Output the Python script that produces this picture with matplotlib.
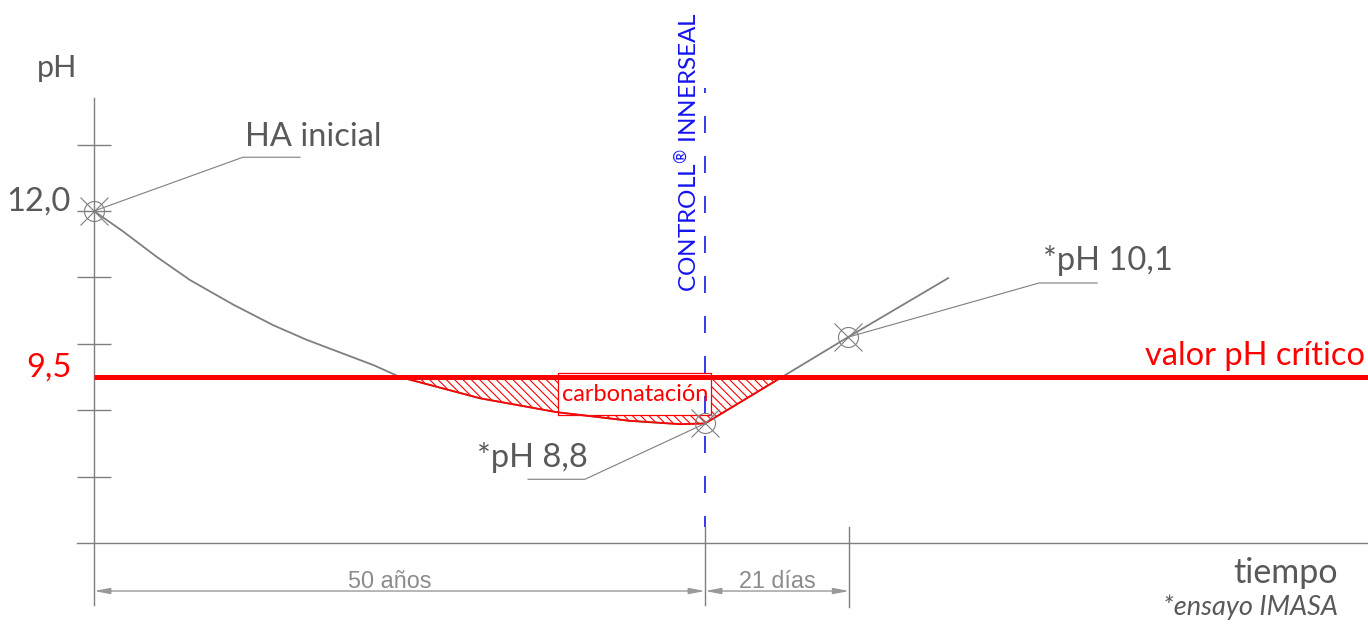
import matplotlib.pyplot as plt

plt.rcParams['font.family'] = ['Lato', 'DejaVu Sans']
plt.rcParams['mathtext.fontset'] = 'custom'
plt.rcParams['mathtext.rm'] = 'Lato'
plt.rcParams['hatch.linewidth'] = 0.8
plt.rcParams['hatch.color'] = 'red'

# curve (x = schematic time, y = pH)
curve_t = [0, 2.40, 5.13, 7.86, 11.40, 14.67, 17.41, 20.13, 22.86,
           25.04, 31.59, 37.89, 43.86, 47.95, 50]
curve_ph = [12.0, 11.69, 11.31, 10.96, 10.59, 10.28, 10.06, 9.87, 9.68,
            9.50, 9.18, 8.97, 8.84, 8.79, 8.8]
rise_t = [50, 56.3, 61.7, 69.9]
rise_ph = [8.8, 9.5, 10.1, 10.99]

ph_ticks = [13, 12, 11, 10, 9, 8]
ph_base = 7
ph_crit = 9.5
t_ctrl = 50
t_test = 61.8

points_t = [0, 50, 61.7]
points_ph = [12.0, 8.8, 10.1]

gray = '#7f7f7f'
txt = '#595959'
blue = '#1414f0'

fig = plt.figure(figsize=(13.68, 6.28), dpi=100)
ax = fig.add_axes([0, 0, 1, 1])
ax.set_xlim(-7.69, 104.25)
ax.set_ylim(5.72, 15.178)
ax.axis('off')

# axes
ax.plot([0, 0], [6.07, 13.7], color=gray, lw=1.0)
ax.plot([-1.39, 104.25], [ph_base, ph_base], color=gray, lw=1.0)
ax.hlines(ph_ticks, -1.39, 1.39, color=gray, lw=1.0)

# hatched carbonation zone
fill_t = curve_t[9:] + rise_t[1:2]
fill_ph = curve_ph[9:] + rise_ph[1:2]
ax.fill_between(fill_t, fill_ph, ph_crit, facecolor='none', edgecolor='red',
                hatch='\\\\\\\\', lw=0)

# curves
ax.plot(curve_t, curve_ph, color=gray, lw=1.3)
ax.plot(rise_t, rise_ph, color=gray, lw=1.3)
ax.plot(fill_t, fill_ph, color='red', lw=1.3)

# critical line
ax.plot([0, 104.25], [ph_crit, ph_crit], color='red', lw=3.6, solid_capstyle='butt')

# box
box_x = [38.0, 50.5]
ax.fill_between(box_x, [8.93, 8.93], [9.56, 9.56], facecolor='white', edgecolor='red', lw=0.9)
ax.text(44.25, 9.24, 'carbonatación', color='red', fontsize=17, ha='center', va='center')

# control line
ax.plot([t_ctrl, t_ctrl], [7.24, 13.85], color=blue, lw=1.2,
        linestyle=(3.6, (10.2, 13.8)))
ax.text(48.55, 12.89, 'CONTROLL$^{®}$ INNERSEAL', color=blue, fontsize=17.5,
        rotation=90, ha='center', va='center')

# markers
ax.plot(points_t, points_ph, 'o', ms=14.4, mfc='none', mec=gray, mew=0.8)
ax.plot(points_t, points_ph, 'x', ms=20, mec=gray, mew=0.8)

# leaders and labels
ax.plot([0, 12.19, 16.86], [12.0, 12.81, 12.81], color=gray, lw=0.8)
ax.text(12.36, 12.98, 'HA inicial', color=txt, fontsize=23.5, ha='left', va='baseline')
ax.plot([50, 40.18, 35.52], [8.8, 7.96, 7.96], color=gray, lw=0.8)
ax.text(40.43, 8.145, '*pH 8,8', color=txt, fontsize=23.5, ha='right', va='baseline')
ax.plot([61.7, 77.33, 82.08], [10.1, 10.916, 10.916], color=gray, lw=0.8)
ax.text(77.66, 11.11, '*pH 10,1', color=txt, fontsize=23.5, ha='left', va='baseline')

ax.text(104.0, 9.68, 'valor pH crítico', color='red', fontsize=23.5, ha='right', va='baseline')
ax.text(-1.8, 9.5, '9,5', color='red', fontsize=23.5, ha='right', va='baseline')
ax.text(-1.88, 12.0, '12,0', color=txt, fontsize=23.5, ha='right', va='baseline')
ax.text(-3.03, 14.02, 'pH', color=txt, fontsize=22, ha='center', va='baseline')
ax.text(101.8, 6.40, 'tiempo', color=txt, fontsize=24.5, ha='right', va='baseline')
ax.text(101.8, 5.92, '*ensayo IMASA', color=txt, fontsize=19.5, style='italic',
        ha='right', va='baseline')

# dimension lines
dim_y = 6.277
ax.plot([t_ctrl, t_ctrl], [6.07, 7.24], color=gray, lw=1.0)
ax.plot([t_test, t_test], [6.04, 7.24], color=gray, lw=1.0)
for a, b in [(0, t_ctrl), (t_ctrl, t_test)]:
    ax.annotate('', xy=(b, dim_y), xytext=(a, dim_y),
                arrowprops=dict(arrowstyle='<|-|>,head_length=0.94,head_width=0.18',
                                mutation_scale=10, color='#999999', lw=1.0,
                                shrinkA=0, shrinkB=0))
ax.text(24.2, 6.32, '50 años', color='#8c8c8c', fontsize=16.8, family='Liberation Sans',
        ha='center', va='baseline')
ax.text(55.9, 6.32, '21 días', color='#8c8c8c', fontsize=16.8, family='Liberation Sans',
        ha='center', va='baseline')

fig.savefig('out.png', dpi=100)
